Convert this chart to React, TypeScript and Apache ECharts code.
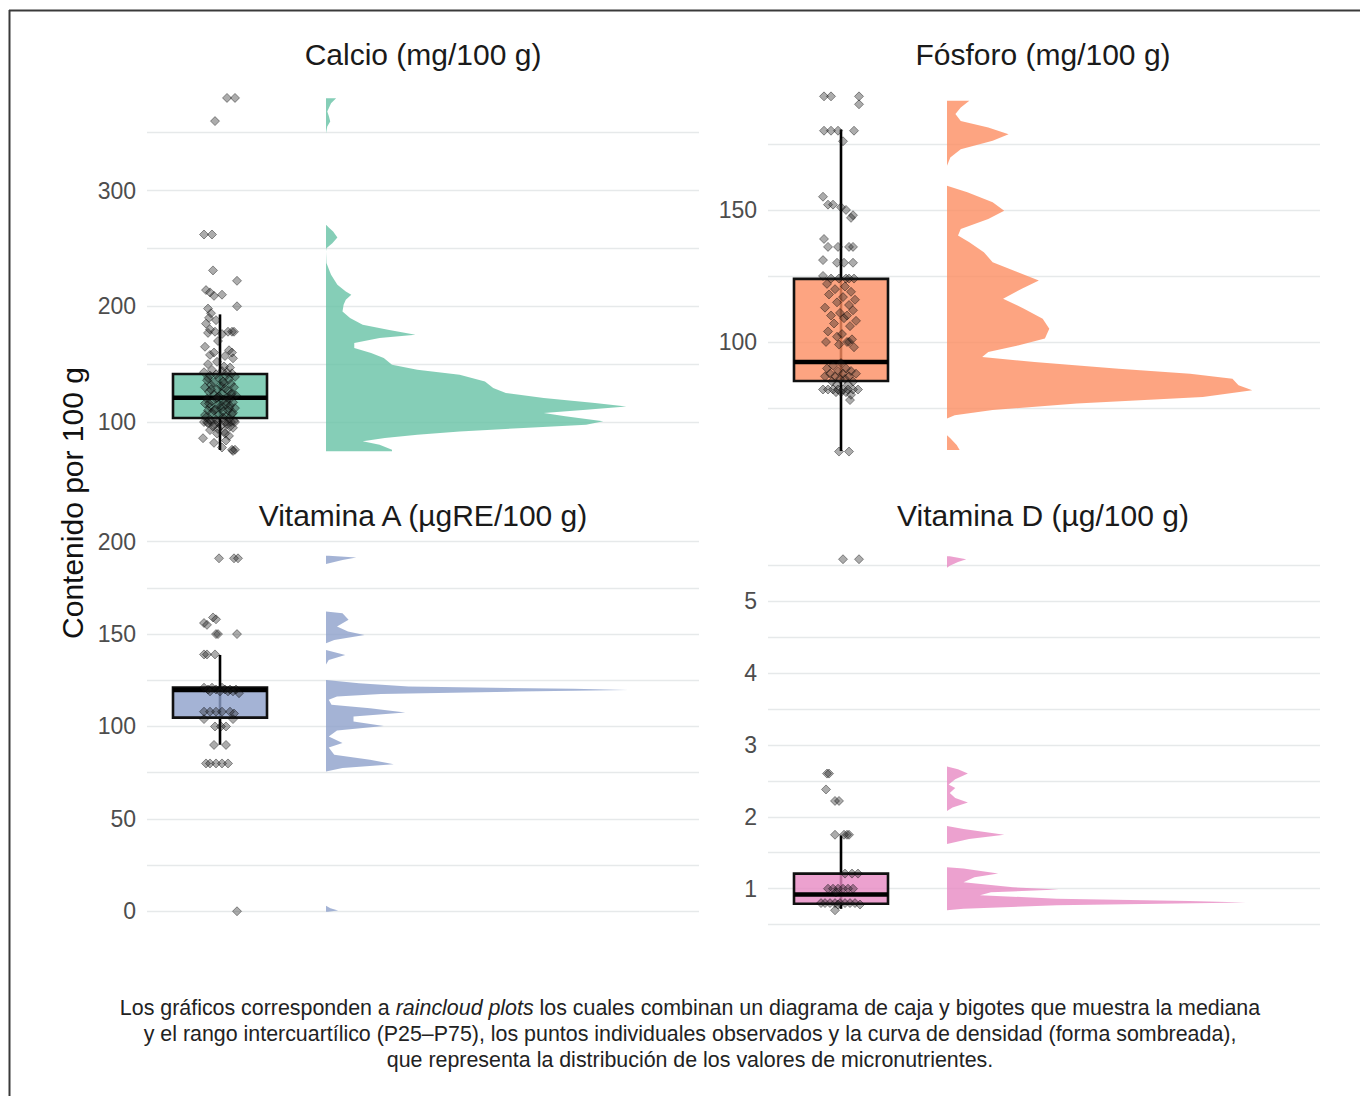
import React, { useEffect, useRef } from "react";
import * as echarts from "echarts";

// ---------- DATA ----------
const panelTitles = [
  "Calcio (mg/100 g)",
  "Fósforo (mg/100 g)",
  "Vitamina A (µgRE/100 g)",
  "Vitamina D (µg/100 g)",
];
const yAxisTitle = "Contenido por 100 g";
const captionLines = [
  "Los gráficos corresponden a {i|raincloud plots} los cuales combinan un diagrama de caja y bigotes que muestra la mediana",
  "y el rango intercuartílico (P25–P75), los puntos individuales observados y la curva de densidad (forma sombreada),",
  "que representa la distribución de los valores de micronutrientes.",
];

// axis ranges / ticks
const calcioRange = [59.4, 395.5];
const fosforoRange = [51.9, 199.2];
const vitARange = [-9.6, 202];
const vitDRange = [0.44, 5.875];
const calcioGrid = [100, 150, 200, 250, 300, 350];
const calcioLabels = [100, 200, 300];
const fosforoGrid = [75, 100, 125, 150, 175];
const fosforoLabels = [100, 150];
const vitAGrid = [0, 25, 50, 75, 100, 125, 150, 175, 200];
const vitALabels = [0, 50, 100, 150, 200];
const vitDGrid = [0.5, 1, 1.5, 2, 2.5, 3, 3.5, 4, 4.5, 5, 5.5];
const vitDLabels = [1, 2, 3, 4, 5];

// box stats: [lower whisker, Q1, median, Q3, upper whisker]
const calcioBox = [75.8, 103.5, 121, 141.5, 193];
const fosforoBox = [58.7, 85.2, 92.4, 123.9, 180.5];
const vitABox = [90.1, 104.8, 119.8, 121.1, 138.7];
const vitDBox = [0.72, 0.79, 0.92, 1.21, 1.74];

// observed points and their horizontal jitter
const calcioValues = [380, 380, 360, 262, 262, 231, 222, 214, 212, 210, 209, 200, 198, 194, 190, 188, 185, 180, 178, 178, 178, 177, 176, 170, 165, 162, 160, 158, 157, 155, 152, 150, 148, 147, 145, 144, 143, 142, 141, 140, 140, 139, 138, 137, 136, 135, 134, 133, 132, 131, 130, 130, 129, 128, 127, 126, 125, 125, 124, 123, 122, 121, 120, 120, 120, 119, 118, 117, 116, 115, 115, 114, 113, 112, 112, 111, 110, 110, 109, 108, 107, 106, 105, 104, 103, 102, 101, 100, 100, 100, 100, 100, 99, 98, 97, 96, 95, 93, 92, 90, 88, 86, 84, 82, 78, 76, 76, 75,
  178, 160, 143, 138, 133, 128, 124, 121, 118, 116, 114, 112, 110, 108, 106, 104, 102, 100, 100, 100, 98, 96, 94, 90];
const calcioJitter = [7, 15, -5, -16, -8, -7, 17, -14, -10, 2, -6, 17, -12, -9, -11, -4, -14, -10, -5, 8, 12, -12, 2, -2, -15, 9, 12, -10, 5, 13, -3, -12, 4, 10, -8, 2, -16, 12, -4, 6, -10, 15, -1, 9, -13, 3, -6, 11, -9, 1, 14, -15, 5, -3, 8, -11, 2, 12, -6, 16, -1, 7, -13, 10, -4, 3, -8, 13, -15, 6, -2, 10, -10, 1, 15, -5, 8, -12, 3, -8, 12, -1, 6, -14, 9, -4, 14, -16, -9, -2, 5, 11, -12, 7, 1, -7, 13, -10, 4, -3, 9, -17, 6, -6, 2, 12, 15, 13,
  14, -6, 7, -12, 4, -9, 11, -3, 6, -11, 1, 9, -6, 13, -15, 3, -10, -13, 8, 15, -5, 10, -2, 5];

const fosforoValues = [193, 193, 193, 190, 180, 180, 180, 180, 176, 155, 152, 152, 151, 150, 148, 147, 139, 136, 136, 136, 136, 131, 130, 130, 130, 125, 124, 124, 124, 124, 124, 122, 121, 120, 119, 118, 117, 116, 115, 114, 113, 112, 111, 110, 110, 109, 108, 107, 106, 104, 103, 102, 101, 100, 100, 100, 99, 98, 92, 91, 90, 90, 89, 89, 88, 88, 88, 87, 87, 87, 86, 86, 85, 85, 84, 84, 82, 82, 82, 82, 82, 82, 82, 82, 81, 81, 81, 80, 78, 58.5, 58.5];
const fosforoJitter = [-17, -10, 18, 18, -17, -10, -3, 13, 2, -18, -13, -8, 0, 5, 12, 10, -17, -13, -3, 8, 12, -18, -4, 3, 12, -18, -10, -2, 5, 8, 13, -14, 4, -6, 10, -12, 2, 14, -4, 8, -16, 12, -1, 6, -10, 3, 15, -7, 9, -13, 1, -4, 11, 8, 6, -15, -2, 13, 0, -8, 5, -14, 10, -3, -11, 2, 15, -6, 8, -16, 4, -1, -9, 12, -4, 7, -18, -13, -8, -3, 2, 7, 12, 17, -5, 5, 0, 10, 9, -2, 8];

const vitAValues = [191, 191, 191, 159, 158, 156, 155, 150, 150, 150, 139, 139, 139, 121, 121, 121, 120, 120, 120, 120, 120, 119, 119, 119, 119, 118, 108, 108, 108, 108, 108, 107, 104, 104, 100, 100, 100, 90, 90, 80, 80, 80, 80, 80, 0];
const vitAJitter = [-1, 14, 18, -7, -4, -16, -13, -4, -2, 17, -16, -13, -5, -16, -8, 2, -12, -4, 5, 10, 16, -10, 0, 8, 13, 19, -16, -10, -4, 2, 10, 14, -16, 13, -5, 1, 6, -6, 6, -14, -10, -4, 2, 8, 17];

const vitDValues = [5.58, 5.58, 2.6, 2.6, 2.38, 2.22, 2.22, 1.75, 1.75, 1.75, 1.75, 1.21, 1.21, 1.21, 1.0, 1.0, 1.0, 1.0, 1.0, 1.0, 0.95, 0.8, 0.8, 0.8, 0.8, 0.8, 0.8, 0.8, 0.8, 0.78, 0.78, 0.7];
const vitDJitter = [2, 18, -14, -12, -15, -6, -2, -6, 3, 6, 8, 4, 11, 17, -13, -8, -3, 2, 7, 12, -5, -20, -16, -11, -6, -1, 4, 9, 14, 19, -3, -6];

// density outlines: [value, density]
const calcioDensity = [[379.7, 1.84], [375.4, 0.92], [368.2, 0.23], [363.9, 0.54], [359.6, 0.77], [355.3, 0.23], [349.5, 0], [270.4, 0], [268, 0.5], [264.6, 1.3], [259.4, 2.07], [254.5, 1.15], [250.2, 0.08], [247.3, 0], [237.3, 0.08], [227.2, 0.92], [218.6, 2.07], [212.8, 3.6], [209.9, 4.6], [205.6, 3.6], [201.3, 3.2], [195.5, 3.0], [189.8, 4.37], [184.0, 6.67], [179.7, 11.27], [175.4, 16.26], [172.5, 9.74], [168.2, 5.14], [163.9, 5.14], [159.6, 8.2], [155.3, 10.5], [149.5, 12.0], [145.2, 16.6], [140.9, 24.3], [135.1, 28.9], [129.4, 30.4], [125.0, 32.7], [120.7, 39.6], [116.4, 48.9], [113.5, 54.6], [110.6, 47.3], [107.8, 39.6], [104.9, 43.5], [100.6, 50.4], [97.7, 47.3], [94.8, 35.9], [91.9, 24.3], [89.1, 16.6], [86.2, 10.7], [83.3, 6.67], [80.4, 9.74], [76.1, 12.0], [74.7, 12.0]];
const fosforoDensity = [[191.3, 4.06], [188.8, 2.5], [186.3, 1.53], [183.7, 2.5], [181.2, 7.5], [178.7, 11.2], [176.2, 8.3], [173.0, 2.5], [169.9, 0.6], [166.7, 0], [159.2, 0], [156.7, 3.7], [152.9, 8.3], [149.7, 10.4], [146.6, 7.5], [142.8, 2.5], [140.3, 2.0], [137.8, 4.06], [134.0, 6.7], [130.2, 8.3], [126.4, 12.9], [123.3, 16.7], [120.2, 13.6], [116.4, 10.2], [112.6, 14.0], [108.8, 17.4], [105.0, 18.6], [101.3, 17.8], [98.7, 12.9], [96.2, 7.5], [94.3, 6.4], [92.4, 15.9], [89.9, 31.2], [88.0, 44.2], [86.1, 51.9], [83.6, 53.0], [81.7, 55.5], [79.2, 46.5], [76.7, 23.6], [74.2, 8.3], [72.3, 1.4], [71.0, 0], [64.7, 0], [63.5, 0.6], [61.0, 1.76], [59.1, 2.3]];
const vitADensity = [[192.4, 0.5], [191.5, 5.5], [190.1, 3], [187.9, 0], [162.2, 0], [161.3, 3], [157.7, 4.1], [154.1, 2], [151.4, 4], [149.5, 7.0], [146.8, 1.5], [145.0, 0], [141.4, 0], [138.7, 3.5], [136.0, 0.5], [133.5, 0], [125.2, 0], [123.4, 6], [121.6, 15], [120.4, 45], [119.8, 54.9], [118.9, 35], [117.6, 10], [116.2, 2], [114.4, 0.5], [111.7, 1], [109.9, 8], [107.6, 14.4], [105.4, 5], [102.7, 5], [100.3, 10.5], [97.8, 2], [94.6, 0.5], [91.0, 3], [88.6, 0.5], [84.7, 1.5], [82.0, 8], [79.6, 12.3], [77.5, 3], [75.7, 0], [3.0, 0], [1.6, 0.8], [0.4, 2.2], [-0.2, 0.3]];
const vitDDensity = [[5.62, 0.5], [5.58, 3.5], [5.54, 2], [5.49, 0.5], [5.46, 0], [2.70, 0], [2.66, 2], [2.60, 3.8], [2.52, 1.5], [2.45, 0.3], [2.40, 1.5], [2.33, 0.5], [2.26, 1.5], [2.20, 3.8], [2.13, 1], [2.08, 0], [1.87, 0], [1.83, 3], [1.75, 10.4], [1.69, 4], [1.62, 0], [1.30, 0], [1.28, 3], [1.21, 9.3], [1.16, 5], [1.09, 3], [1.02, 12], [0.99, 20.3], [0.95, 8], [0.91, 6], [0.86, 20], [0.83, 44], [0.81, 54.3], [0.77, 20], [0.72, 3], [0.70, 0]];

const fillColors = [
  "rgba(102,194,165,0.8)",
  "rgba(252,141,98,0.8)",
  "rgba(141,160,203,0.8)",
  "rgba(231,138,195,0.8)",
];

// ---------- LAYOUT ----------
const FONT = "'Liberation Sans', Arial, sans-serif";
const gridLefts = [147, 768, 147, 768];
const gridTops = [80, 80, 538, 538];
const gridHeights = [389, 389, 391, 391];
const GRID_W = 552;
const X_MAX = 552;
const CENTER = 73;
const BOX_HALF = 47;
const DENS_BASE = 179;
const DENS_SCALE = 5.5;

const panels = [
  { range: calcioRange, grid: calcioGrid, labels: calcioLabels, box: calcioBox, values: calcioValues, jitter: calcioJitter, density: calcioDensity },
  { range: fosforoRange, grid: fosforoGrid, labels: fosforoLabels, box: fosforoBox, values: fosforoValues, jitter: fosforoJitter, density: fosforoDensity },
  { range: vitARange, grid: vitAGrid, labels: vitALabels, box: vitABox, values: vitAValues, jitter: vitAJitter, density: vitADensity },
  { range: vitDRange, grid: vitDGrid, labels: vitDLabels, box: vitDBox, values: vitDValues, jitter: vitDJitter, density: vitDDensity },
];

function buildOption() {
  const grid: any[] = [];
  const xAxis: any[] = [];
  const yAxis: any[] = [];
  const series: any[] = [];

  panels.forEach((p, i) => {
    grid.push({ left: gridLefts[i], top: gridTops[i], width: GRID_W, height: gridHeights[i] });
    xAxis.push({ gridIndex: i, type: "value", min: 0, max: X_MAX, show: false });
    yAxis.push({
      gridIndex: i,
      type: "value",
      min: p.range[0],
      max: p.range[1],
      axisLine: { show: false },
      axisTick: { show: false, customValues: p.grid },
      axisLabel: {
        customValues: p.labels,
        fontSize: 23,
        color: "#4d4d4d",
        fontFamily: FONT,
        margin: 11,
      },
      splitLine: { show: true, lineStyle: { color: "#e6e9ea", width: 1.3 } },
    });

    const dens = p.density;
    const color = fillColors[i];
    series.push({
      type: "custom",
      xAxisIndex: i,
      yAxisIndex: i,
      clip: false,
      silent: true,
      data: [[DENS_BASE, dens[0][0]]],
      renderItem: (params: any, api: any) => {
        const pts: number[][] = [];
        pts.push(api.coord([DENS_BASE, dens[0][0]]));
        dens.forEach(([v, d]) => pts.push(api.coord([DENS_BASE + d * DENS_SCALE, v])));
        pts.push(api.coord([DENS_BASE, dens[dens.length - 1][0]]));
        return { type: "polygon", shape: { points: pts }, style: { fill: color } };
      },
    });

    series.push({
      type: "custom",
      xAxisIndex: i,
      yAxisIndex: i,
      clip: false,
      silent: true,
      data: [[CENTER, ...p.box]],
      renderItem: (params: any, api: any) => {
        const c = api.value(0);
        const lo = api.value(1), q1 = api.value(2), med = api.value(3), q3 = api.value(4), hi = api.value(5);
        const pLo = api.coord([c, lo]);
        const pHi = api.coord([c, hi]);
        const pA = api.coord([c - BOX_HALF, q3]);
        const pB = api.coord([c + BOX_HALF, q1]);
        const mL = api.coord([c - BOX_HALF, med]);
        const mR = api.coord([c + BOX_HALF, med]);
        return {
          type: "group",
          children: [
            { type: "line", shape: { x1: pLo[0], y1: pLo[1], x2: pHi[0], y2: pHi[1] }, style: { stroke: "#000", lineWidth: 2.6 } },
            { type: "rect", shape: { x: pA[0], y: pA[1], width: pB[0] - pA[0], height: pB[1] - pA[1] }, style: { fill: color, stroke: "#111", lineWidth: 2.6 } },
            { type: "line", shape: { x1: mL[0], y1: mL[1], x2: mR[0], y2: mR[1] }, style: { stroke: "#000", lineWidth: 4.5 } },
          ],
        };
      },
    });

    series.push({
      type: "scatter",
      xAxisIndex: i,
      yAxisIndex: i,
      silent: true,
      symbol: "diamond",
      symbolSize: 9,
      z: 5,
      itemStyle: { color: "rgba(25,25,25,0.45)", borderColor: "rgba(0,0,0,0.5)", borderWidth: 1 },
      data: p.values.map((v, k) => [CENTER + p.jitter[k], v]),
    });
  });

  const graphic: any[] = [
    { type: "line", shape: { x1: 9, y1: 10.5, x2: 1360, y2: 10.5 }, style: { stroke: "#3a3a3a", lineWidth: 2 } },
    { type: "line", shape: { x1: 9.5, y1: 10, x2: 9.5, y2: 1096 }, style: { stroke: "#3a3a3a", lineWidth: 2 } },
  ];
  const titleX = [423, 1043, 423, 1043];
  const titleY = [54, 54, 515, 515];
  panelTitles.forEach((t, i) => {
    graphic.push({
      type: "text",
      x: titleX[i],
      y: titleY[i],
      style: { text: t, fontSize: 30, fontFamily: FONT, fill: "#1a1a1a", align: "center", verticalAlign: "middle" },
    });
  });
  graphic.push({
    type: "text",
    x: 72,
    y: 503,
    rotation: Math.PI / 2,
    style: { text: yAxisTitle, fontSize: 30, fontFamily: FONT, fill: "#111", align: "center", verticalAlign: "middle" },
  });
  const capY = [1008, 1034, 1060];
  captionLines.forEach((line, i) => {
    graphic.push({
      type: "text",
      x: 690,
      y: capY[i],
      style: {
        text: line,
        fontSize: 21.4,
        fontFamily: FONT,
        fill: "#222",
        align: "center",
        verticalAlign: "middle",
        rich: { i: { fontStyle: "italic", fontSize: 21.4, fontFamily: FONT, fill: "#222" } },
      },
    });
  });

  return { animation: false, backgroundColor: "#ffffff", grid, xAxis, yAxis, series, graphic };
}

export default function App() {
  const ref = useRef<HTMLDivElement>(null);
  useEffect(() => {
    if (!ref.current) return;
    const chart = echarts.init(ref.current, undefined, { renderer: "svg" });
    chart.setOption(buildOption() as any);
    return () => chart.dispose();
  }, []);
  return (
    <div
      ref={ref}
      style={{ position: "absolute", left: 0, top: 0, width: 1360, height: 1096, background: "#fff" }}
    />
  );
}
